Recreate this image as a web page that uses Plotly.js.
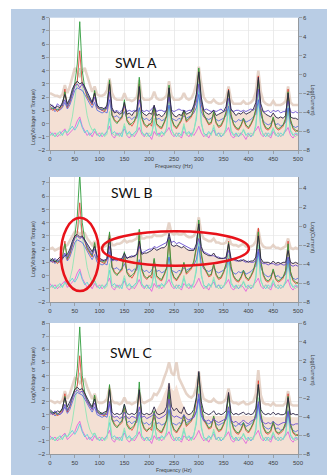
<!DOCTYPE html>
<html><head><meta charset="utf-8">
<script src="https://cdn.plot.ly/plotly-3.0.1.min.js"></script>
<style>html,body{margin:0;padding:0;background:#fff;}#chart{width:327px;height:475px;}</style>
</head><body><div id="chart"></div>
<script>
// Frequency (Hz)
const freq = [0,5,10,15,20,25,30,35,40,45,
 50,55,60,65,70,75,80,85,90,95,
 100,105,110,115,120,125,130,135,140,145,
 150,155,160,165,170,175,180,185,190,195,
 200,205,210,215,220,225,230,235,240,245,
 250,255,260,265,270,275,280,285,290,295,
 300,305,310,315,320,325,330,335,340,345,
 350,355,360,365,370,375,380,385,390,395,
 400,405,410,415,420,425,430,435,440,445,
 450,455,460,465,470,475,480,485,490,495,
 500];
const xTicks = [0,50,100,150,200,250,300,350,400,450,500];
const panelNames = ['SWL A','SWL B','SWL C'];

// ---- SWL A ----
const currentA = [2.3,2.2,2.1,2.1,2.0,2.2,2.9,2.3,2.8,3.5,
 4.2,3.9,3.6,3.9,4.2,3.6,2.9,2.4,2.8,2.2,
 2.1,2.1,2.2,2.5,3.4,2.3,1.9,1.8,1.8,1.8,
 2.3,1.8,1.8,1.7,1.8,2.0,3.3,2.0,1.8,1.8,
 1.8,1.9,2.4,1.9,1.8,1.8,1.9,2.1,3.2,2.1,
 1.8,1.8,1.8,1.9,2.3,1.9,1.8,1.9,2.3,3.0,
 4.3,3.0,2.0,1.7,1.6,1.6,1.8,1.6,1.5,1.5,
 1.6,1.9,2.8,1.8,1.5,1.5,1.5,1.5,1.7,1.5,
 1.5,1.6,1.8,2.4,4.0,2.4,1.7,1.5,1.4,1.4,
 1.7,1.4,1.4,1.4,1.5,1.7,2.8,1.6,1.4,1.4,
 1.4];
const darkA = [1.5,1.3,1.2,1.3,1.2,1.6,2.2,1.5,1.9,2.6,
 3.0,3.2,3.0,3.1,2.8,2.4,2.0,1.6,2.3,1.4,
 1.2,1.2,1.1,1.4,3.0,1.2,0.8,0.9,0.7,0.8,
 1.6,0.7,0.8,0.6,0.9,1.0,2.8,0.9,0.7,0.6,
 0.8,0.7,1.4,0.6,0.7,0.5,0.7,1.0,2.7,0.9,
 0.6,0.5,0.7,0.6,1.0,0.7,0.8,0.9,1.4,2.2,
 3.9,2.0,1.0,0.8,0.7,0.8,1.0,0.6,0.7,0.8,
 0.9,1.3,2.5,1.1,0.8,0.6,0.8,0.7,0.9,0.7,
 0.8,0.9,1.1,1.6,3.5,1.5,0.9,0.7,0.6,0.5,
 0.8,0.5,0.4,0.5,0.4,0.6,2.3,0.5,0.4,0.4,
 0.3];
const purpleA = [1.3,1.4,1.1,1.5,1.3,1.4,1.8,1.3,1.7,2.3,
 2.8,3.0,2.7,3.0,2.6,2.2,1.9,1.5,2.0,1.3,
 1.1,1.0,1.2,1.1,2.4,1.0,0.9,1.0,0.8,1.0,
 1.3,0.9,1.0,0.9,1.0,0.9,1.8,1.0,0.9,1.0,
 0.9,1.1,1.3,0.9,1.0,1.0,0.9,1.0,2.0,1.0,
 0.9,1.0,1.1,1.0,1.0,0.9,1.0,1.0,1.2,1.6,
 3.0,1.5,1.0,1.1,1.0,0.9,1.0,0.9,1.0,1.1,
 0.9,1.0,1.9,1.0,0.9,1.0,1.0,0.9,1.0,0.9,
 1.0,1.1,1.0,1.2,2.6,1.1,0.9,0.9,1.0,0.8,
 1.0,0.9,1.0,0.8,0.9,0.9,1.7,0.9,0.8,0.9,
 0.8];
const fillA = darkA;

// ---- SWL B ----
const currentB = [2.0,2.1,1.9,2.0,2.1,2.0,2.2,2.3,2.6,3.0,
 3.3,3.3,3.1,3.3,3.2,2.8,2.5,2.3,2.6,2.2,
 2.1,2.1,2.2,2.3,3.0,2.3,2.3,2.4,2.4,2.5,
 2.7,2.5,2.6,2.6,2.7,2.8,3.4,2.8,2.8,2.9,
 2.9,2.9,3.1,3.0,3.0,3.0,3.1,3.2,4.0,3.2,
 3.1,3.2,3.1,3.1,3.2,3.0,2.9,2.9,3.0,3.4,
 4.4,3.2,2.8,2.7,2.6,2.6,2.8,2.5,2.5,2.4,
 2.4,2.5,3.0,2.4,2.3,2.3,2.2,2.3,2.4,2.2,
 2.2,2.2,2.3,2.6,3.5,2.5,2.2,2.1,2.1,2.1,
 2.3,2.1,2.1,2.0,2.1,2.2,2.8,2.1,2.0,2.1,
 2.0];
const darkB = [1.1,1.3,1.0,1.2,1.4,1.3,1.5,1.6,2.0,2.6,
 3.0,3.1,2.9,3.0,2.7,2.3,2.0,1.8,2.2,1.5,
 1.3,1.2,1.1,1.3,2.8,1.2,1.2,1.3,1.2,1.3,
 1.7,1.3,1.4,1.4,1.5,1.6,2.6,1.6,1.7,1.7,
 1.8,1.9,2.1,1.9,2.0,2.1,2.1,2.3,3.2,2.3,
 2.2,2.3,2.2,2.1,2.2,2.0,1.9,1.9,1.9,2.4,
 3.9,2.2,1.7,1.6,1.5,1.5,1.7,1.4,1.3,1.3,
 1.3,1.4,2.4,1.3,1.2,1.2,1.1,1.1,1.2,1.1,
 1.0,1.1,1.1,1.4,3.0,1.3,1.0,1.0,1.0,0.9,
 1.1,0.9,1.0,0.9,1.0,1.0,1.9,1.0,0.9,1.0,
 0.9];
const purpleB = [1.2,1.0,1.3,1.1,1.2,1.4,1.7,1.4,1.8,2.4,
 2.8,3.0,2.8,2.9,2.6,2.2,1.9,1.6,2.0,1.4,
 1.2,1.1,1.2,1.2,2.2,1.1,1.2,1.1,1.3,1.2,
 1.5,1.3,1.4,1.5,1.4,1.6,2.2,1.7,1.8,1.9,
 2.0,2.0,2.2,2.1,2.2,2.3,2.4,2.5,2.9,2.5,
 2.6,2.4,2.5,2.4,2.3,2.2,2.1,2.0,2.0,2.1,
 2.8,1.9,1.8,1.7,1.6,1.5,1.5,1.4,1.4,1.3,
 1.3,1.3,1.9,1.2,1.2,1.1,1.1,1.2,1.1,1.0,
 1.1,1.0,1.0,1.1,2.0,1.0,0.9,0.9,0.8,0.9,
 0.9,0.8,0.8,0.9,0.8,0.8,1.4,0.8,0.7,0.8,
 0.7];
const fillB = darkB;

// ---- SWL C ----
const currentC = [2.1,2.0,1.9,2.0,1.9,2.1,2.8,2.2,2.6,3.2,
 3.8,3.7,3.4,3.6,3.7,3.1,2.6,2.2,2.6,2.0,
 1.9,1.9,2.0,2.2,3.0,2.1,1.9,1.9,1.8,1.9,
 2.3,1.9,1.9,1.8,1.9,2.0,2.7,2.0,1.9,2.0,
 2.1,2.2,2.6,2.5,2.8,3.2,3.8,4.3,5.0,4.2,
 4.0,5.0,3.8,3.4,3.1,2.6,2.4,2.3,2.5,3.1,
 4.3,2.9,2.2,2.1,2.0,2.0,2.2,2.0,1.9,1.9,
 2.0,2.2,3.0,2.1,1.9,1.9,1.8,1.9,2.0,1.8,
 1.8,1.9,2.0,2.6,4.4,2.5,1.9,1.8,1.8,1.7,
 1.9,1.7,1.7,1.7,1.7,1.9,2.8,1.8,1.7,1.7,
 1.7];
const darkC = [1.4,1.2,1.1,1.3,1.2,1.5,2.3,1.6,2.0,2.5,
 2.9,3.1,2.9,3.0,2.6,2.2,1.9,1.6,2.2,1.4,
 1.2,1.1,1.2,1.3,2.9,1.2,1.0,1.1,1.0,1.1,
 1.8,1.1,1.0,1.1,1.0,1.2,2.9,1.1,1.0,1.1,
 1.0,1.1,1.6,1.1,1.0,1.1,1.2,1.6,3.4,1.6,
 1.3,1.5,1.2,1.1,1.6,1.1,1.0,1.1,1.4,2.3,
 4.3,2.0,1.2,1.1,1.0,1.1,1.3,1.0,1.1,1.0,
 1.1,1.3,2.7,1.2,1.0,1.1,1.0,1.1,1.2,1.0,
 1.1,1.0,1.1,1.5,3.3,1.4,1.1,1.0,1.1,1.0,
 1.2,1.0,1.1,1.0,1.0,1.1,2.3,1.0,1.1,1.0,
 1.0];
const purpleC = [1.2,1.0,1.3,1.1,1.0,1.2,1.8,1.3,1.7,2.3,
 2.7,2.9,2.7,2.8,2.4,2.0,1.7,1.4,1.9,1.2,
 1.0,1.0,1.1,1.0,2.0,0.9,0.8,0.9,0.7,0.8,
 1.2,0.8,0.7,0.9,0.8,0.7,1.6,0.8,0.9,0.7,
 0.8,0.9,1.1,0.8,0.7,0.8,0.9,1.1,2.2,1.0,
 0.8,0.9,0.8,0.7,1.0,0.7,0.6,0.7,0.8,1.3,
 2.6,1.1,0.6,0.5,0.6,0.4,0.7,0.5,0.4,0.5,
 0.6,0.7,1.6,0.6,0.4,0.5,0.3,0.4,0.6,0.4,
 0.3,0.5,0.6,0.8,2.0,0.7,0.4,0.3,0.4,0.3,
 0.5,0.3,0.2,0.3,0.4,0.4,1.3,0.3,0.2,0.3,
 0.3];
const fillC = [1.3,1.2,1.1,1.2,1.2,1.3,1.7,1.4,1.8,2.4,
 2.8,3.0,2.9,2.9,2.6,2.2,1.8,1.5,1.8,1.3,
 1.1,1.1,1.1,1.2,1.9,1.0,0.9,0.9,0.9,0.9,
 1.2,0.9,0.9,0.9,0.9,1.0,1.6,1.0,0.9,1.0,
 1.0,1.1,1.4,1.4,1.7,2.1,2.6,3.0,3.5,3.0,
 2.8,3.3,2.6,2.0,1.6,1.2,1.0,1.0,1.2,1.7,
 2.5,1.5,1.0,0.9,0.9,0.9,1.0,0.9,0.9,0.9,
 0.9,1.0,1.6,0.9,0.9,0.9,0.9,0.9,1.0,0.9,
 0.9,0.9,0.9,1.1,1.8,1.0,0.9,0.8,0.8,0.8,
 0.9,0.8,0.8,0.8,0.8,0.9,1.4,0.8,0.8,0.8,
 0.8];

// ---- lower channels (similar in all three) ----
const blueLow = [1.0,1.2,0.9,1.1,1.0,1.2,1.6,1.1,1.4,2.0,
 2.5,2.7,2.6,2.5,2.2,1.8,1.5,1.2,1.6,1.0,
 0.9,0.8,0.9,0.8,1.8,0.6,0.5,0.6,0.4,0.5,
 0.9,0.4,0.5,0.3,0.5,0.4,1.2,0.5,0.3,0.4,
 0.2,0.4,0.8,0.3,0.4,0.2,0.3,0.5,1.4,0.4,
 0.3,0.2,0.4,0.3,0.6,0.4,0.5,0.6,0.8,1.2,
 2.2,0.9,0.5,0.4,0.3,0.4,0.6,0.3,0.2,0.3,
 0.4,0.6,1.3,0.4,0.2,0.1,0.3,0.2,0.4,0.1,
 0.2,0.3,0.5,0.7,1.8,0.6,0.2,0.0,-0.1,0.0,
 0.3,-0.1,0.0,-0.2,-0.1,0.1,1.2,0.0,-0.2,-0.3,
 -0.2];
const redLow = [1.2,1.0,1.1,0.9,1.1,1.3,2.6,1.2,1.6,2.2,
 2.9,3.2,5.5,3.0,2.6,2.0,1.7,1.4,2.4,1.2,
 1.1,1.0,0.9,1.2,3.2,0.7,0.3,0.1,0.2,0.4,
 1.5,0.3,0.0,-0.2,0.1,0.6,3.0,0.4,-0.1,-0.3,
 0.0,-0.2,1.2,-0.1,-0.3,-0.4,0.0,0.5,2.7,0.3,
 -0.2,-0.4,-0.1,0.2,0.9,0.1,0.3,0.5,1.0,2.0,
 4.0,1.5,0.6,0.2,-0.1,0.0,0.8,0.0,-0.3,-0.2,
 0.2,0.8,2.6,0.6,-0.1,-0.4,-0.5,-0.2,0.3,-0.2,
 -0.4,-0.1,0.3,1.0,3.6,1.0,0.0,-0.4,-0.5,-0.3,
 0.4,-0.3,-0.5,-0.4,-0.2,0.3,2.6,0.2,-0.4,-0.6,
 -0.5];
const greenLow = [1.3,1.1,1.2,1.0,1.2,1.4,2.4,1.3,1.7,2.3,
 3.0,4.5,7.7,4.0,2.7,2.1,1.8,1.5,2.5,1.3,
 1.1,1.1,1.0,1.3,3.3,0.6,0.2,0.0,0.3,0.5,
 1.8,0.2,-0.1,0.0,0.2,0.7,3.5,0.5,0.0,-0.2,
 -0.1,0.1,1.3,0.0,-0.2,-0.3,0.1,0.6,2.9,0.4,
 -0.1,-0.3,0.0,0.3,1.0,0.2,0.4,0.6,1.1,2.2,
 4.2,1.7,0.7,0.3,0.0,0.1,0.9,0.1,-0.2,-0.1,
 0.3,0.9,2.5,0.7,0.0,-0.3,-0.4,-0.1,0.4,-0.1,
 -0.3,0.0,0.4,1.1,3.3,1.1,0.1,-0.3,-0.4,-0.2,
 0.5,-0.2,-0.4,-0.3,-0.1,0.4,2.4,0.3,-0.3,-0.5,
 -0.6];
const magentaLow = [-0.6,-0.9,-0.7,-1.0,-0.8,-0.6,-0.4,-0.9,-0.7,-0.5,
 -0.3,0.2,0.5,-0.2,-0.6,-0.9,-0.7,-1.0,-0.6,-0.9,
 -0.7,-1.0,-0.8,-0.6,-0.2,-0.9,-1.1,-0.7,-0.9,-0.6,
 -0.4,-0.9,-1.1,-0.8,-1.0,-0.7,-0.3,-0.8,-1.0,-0.7,
 -0.9,-1.2,-0.6,-0.9,-0.7,-1.0,-0.8,-0.6,-0.3,-0.8,
 -1.0,-0.7,-0.9,-1.1,-0.6,-0.8,-1.0,-0.7,-0.9,-0.6,
 -0.2,-0.7,-1.0,-0.8,-1.1,-0.7,-0.5,-0.9,-0.7,-1.0,
 -0.8,-0.6,-0.3,-0.9,-1.1,-0.8,-1.0,-0.7,-0.9,-1.2,
 -0.8,-1.0,-0.7,-0.5,-0.2,-0.8,-1.0,-0.7,-0.9,-1.1,
 -0.6,-0.9,-0.7,-1.0,-0.8,-0.6,-0.3,-0.9,-1.1,-0.8,
 -0.9];
const cyanLow = [-0.9,-0.7,-1.0,-0.8,-0.6,-0.9,-0.5,-0.7,-0.4,-0.2,
 -0.5,-0.2,0.3,-0.3,-0.7,-0.5,-0.9,-0.7,-0.4,-0.8,
 -1.0,-0.7,-0.9,-0.6,0.4,-0.8,-0.6,-0.9,-0.7,-1.0,
 -0.2,-0.8,-0.6,-0.9,-0.7,-0.5,0.8,-0.6,-0.9,-0.7,
 -1.0,-0.8,0.2,-0.7,-0.9,-0.6,-0.8,-0.4,1.5,-0.5,
 -0.8,-1.0,-0.7,-0.9,-0.2,-0.8,-0.6,-0.9,-0.5,0.3,
 2.5,0.0,-0.7,-0.9,-0.6,-0.8,-0.3,-0.9,-0.7,-1.0,
 -0.8,-0.4,1.2,-0.6,-0.9,-0.7,-1.0,-0.8,-0.5,-0.9,
 -0.7,-1.0,-0.8,-0.2,1.8,-0.4,-0.8,-1.0,-0.7,-0.9,
 -0.4,-0.8,-1.0,-0.7,-0.9,-0.5,1.0,-0.6,-0.9,-0.7,
 -0.8];
const mintLow = [-0.9,-0.8,-1.0,-0.7,-0.9,-0.8,-0.6,-0.7,-0.3,0.5,
 1.8,3.3,4.2,3.0,1.6,0.6,-0.1,-0.5,-0.4,-0.8,
 -0.9,-0.7,-1.0,-0.8,0.9,-0.7,-0.9,-0.8,-1.0,-0.7,
 0.0,-0.9,-0.7,-1.0,-0.8,-0.6,1.2,-0.7,-0.8,-1.0,
 -0.7,-0.9,0.4,-0.8,-1.0,-0.7,-0.9,-0.3,2.0,-0.4,
 -0.9,-0.7,-1.0,-0.8,0.0,-0.9,-0.7,-1.0,-0.6,0.6,
 3.2,0.2,-0.8,-1.0,-0.7,-0.9,-0.1,-0.8,-1.0,-0.7,
 -0.9,-0.3,1.6,-0.5,-0.8,-1.0,-0.7,-0.9,-0.4,-0.8,
 -1.0,-0.7,-0.9,0.0,2.3,-0.3,-0.9,-0.7,-1.0,-0.8,
 -0.3,-0.9,-0.7,-1.0,-0.8,-0.4,1.4,-0.5,-0.8,-1.0,
 -0.8];

const W = 327, H = 475;
const panels = [
  {name:panelNames[0], xa:'x',  ya:'y',  yr:'y2', top:17.7, bot:150, yRange:[-2,8],    rRange:[-8,6],   cur:currentA, dark:darkA, purple:purpleA, fill:fillA},
  {name:panelNames[1], xa:'x2', ya:'y3', yr:'y4', top:177,  bot:302, yRange:[-2,7.45], rRange:[-8,5.2], cur:currentB, dark:darkB, purple:purpleB, fill:fillB},
  {name:panelNames[2], xa:'x3', ya:'y5', yr:'y6', top:323,  bot:454, yRange:[-2,8],    rRange:[-8,6],   cur:currentC, dark:darkC, purple:purpleC, fill:fillC}
];

function ln(y, color, width, p){
  return {x:freq, y:y, xaxis:p.xa, yaxis:p.ya, type:'scatter', mode:'lines',
          line:{color:color, width:width}, hoverinfo:'skip'};
}
const data = [];
panels.forEach(p => {
  const floor = freq.map(() => p.yRange[0]);
  data.push({x:freq, y:floor, xaxis:p.xa, yaxis:p.ya, mode:'lines', line:{width:0, color:'rgba(0,0,0,0)'}, hoverinfo:'skip'});
  data.push({x:freq, y:p.fill, xaxis:p.xa, yaxis:p.ya, mode:'lines', fill:'tonexty', fillcolor:'#f4e0d4', line:{width:0, color:'rgba(0,0,0,0)'}, hoverinfo:'skip'});
  data.push(ln(p.cur, 'rgba(222,200,186,0.8)', 2.6, p));
  data.push(ln(magentaLow, '#e055dd', 0.8, p));
  data.push(ln(cyanLow, '#45d3dc', 0.8, p));
  data.push(ln(mintLow, '#8ee6b4', 0.9, p));
  data.push(ln(blueLow, '#4a63e0', 0.8, p));
  data.push(ln(redLow, '#e0392b', 0.8, p));
  data.push(ln(greenLow, '#2f9c3c', 0.9, p));
  data.push(ln(p.purple, '#6a4fd0', 0.9, p));
  data.push(ln(p.dark, '#2a2244', 0.9, p));
  // empty trace so the right-hand (current) axis is drawn
  data.push({x:[], y:[], xaxis:p.xa, yaxis:p.yr, mode:'lines', hoverinfo:'skip'});
});

const gray = '#8c8c8c';
function xAxis(p){
  return {domain:[50/W, 298/W], anchor:p.ya, range:[0,500], tickvals:xTicks, ticks:'outside', ticklen:3,
          tickwidth:0.7, tickcolor:gray, showline:true, linecolor:gray, linewidth:0.8, showgrid:true,
          gridcolor:'#dedede', gridwidth:0.6, zeroline:false, tickfont:{size:6, color:'#404040'}, fixedrange:true};
}
function yLeft(p){
  return {domain:[1-p.bot/H, 1-p.top/H], anchor:p.xa, range:p.yRange, dtick:1, ticks:'outside', ticklen:3,
          tickwidth:0.7, tickcolor:gray, showline:true, linecolor:gray, linewidth:0.8, showgrid:true,
          gridcolor:'#e6e6e6', gridwidth:0.6, zeroline:false, tickfont:{size:6, color:'#404040'}, fixedrange:true};
}
function yRight(p){
  return {overlaying:p.ya, anchor:p.xa, side:'right', range:p.rRange, dtick:2, ticks:'outside', ticklen:3,
          tickwidth:0.7, tickcolor:gray, showline:true, linecolor:gray, linewidth:0.8, showgrid:false,
          zeroline:false, tickfont:{size:6, color:'#404040'}, fixedrange:true};
}

const layout = {
  width:W, height:H, margin:{l:0, r:0, t:0, b:0},
  paper_bgcolor:'#b9cde5', plot_bgcolor:'#ffffff', showlegend:false,
  font:{family:'Liberation Sans, Arial, sans-serif', size:6, color:'#404040'},
  xaxis:xAxis(panels[0]), yaxis:yLeft(panels[0]), yaxis2:yRight(panels[0]),
  xaxis2:xAxis(panels[1]), yaxis3:yLeft(panels[1]), yaxis4:yRight(panels[1]),
  xaxis3:xAxis(panels[2]), yaxis5:yLeft(panels[2]), yaxis6:yRight(panels[2]),
  shapes:[
    {type:'rect', xref:'paper', yref:'paper', x0:0, x1:11/W, y0:0, y1:1, fillcolor:'#ffffff', line:{width:0}},
    {type:'rect', xref:'paper', yref:'paper', x0:0, x1:1, y0:1-9/H, y1:1, fillcolor:'#ffffff', line:{width:0}},
    {type:'circle', xref:'x2', yref:'y3', x0:22, x1:99, y0:-1.17, y1:4.36, line:{color:'#e8121a', width:2.5}},
    {type:'circle', xref:'x2', yref:'y3', x0:105, x1:401, y0:0.74, y1:3.35, line:{color:'#e8121a', width:2.5}}
  ],
  annotations:[]
};
const swlPos = [[136,52],[131,192],[131,363]];
const leftTitleY = [87,249,405];
const rightTitleY = [82,237,387];
panels.forEach((p,i) => {
  layout.annotations.push({xref:'paper', yref:'paper', x:swlPos[i][0]/W, y:1-swlPos[i][1]/H, text:p.name,
    showarrow:false, font:{family:'Lato, Open Sans, sans-serif', size:14, color:'#111111'}});
  layout.annotations.push({xref:'paper', yref:'paper', x:28/W, y:1-leftTitleY[i]/H, text:'Log(Voltage or Torque)',
    showarrow:false, textangle:-90, font:{size:5.5, color:'#404040'}});
  layout.annotations.push({xref:'paper', yref:'paper', x:318/W, y:1-rightTitleY[i]/H, text:'Log(Current)',
    showarrow:false, textangle:90, font:{size:5.5, color:'#404040'}});
});
layout.annotations.push({xref:'paper', yref:'paper', x:174/W, y:1-166/H, text:'Frequency (Hz)', showarrow:false, font:{size:5.5, color:'#404040'}});
layout.annotations.push({xref:'paper', yref:'paper', x:174/W, y:0, yanchor:'bottom', yshift:0, text:'Frequency (Hz)', showarrow:false, font:{size:5.2, color:'#404040'}});

Plotly.newPlot('chart', data, layout, {staticPlot:true, displayModeBar:false});
</script>
</body></html>
